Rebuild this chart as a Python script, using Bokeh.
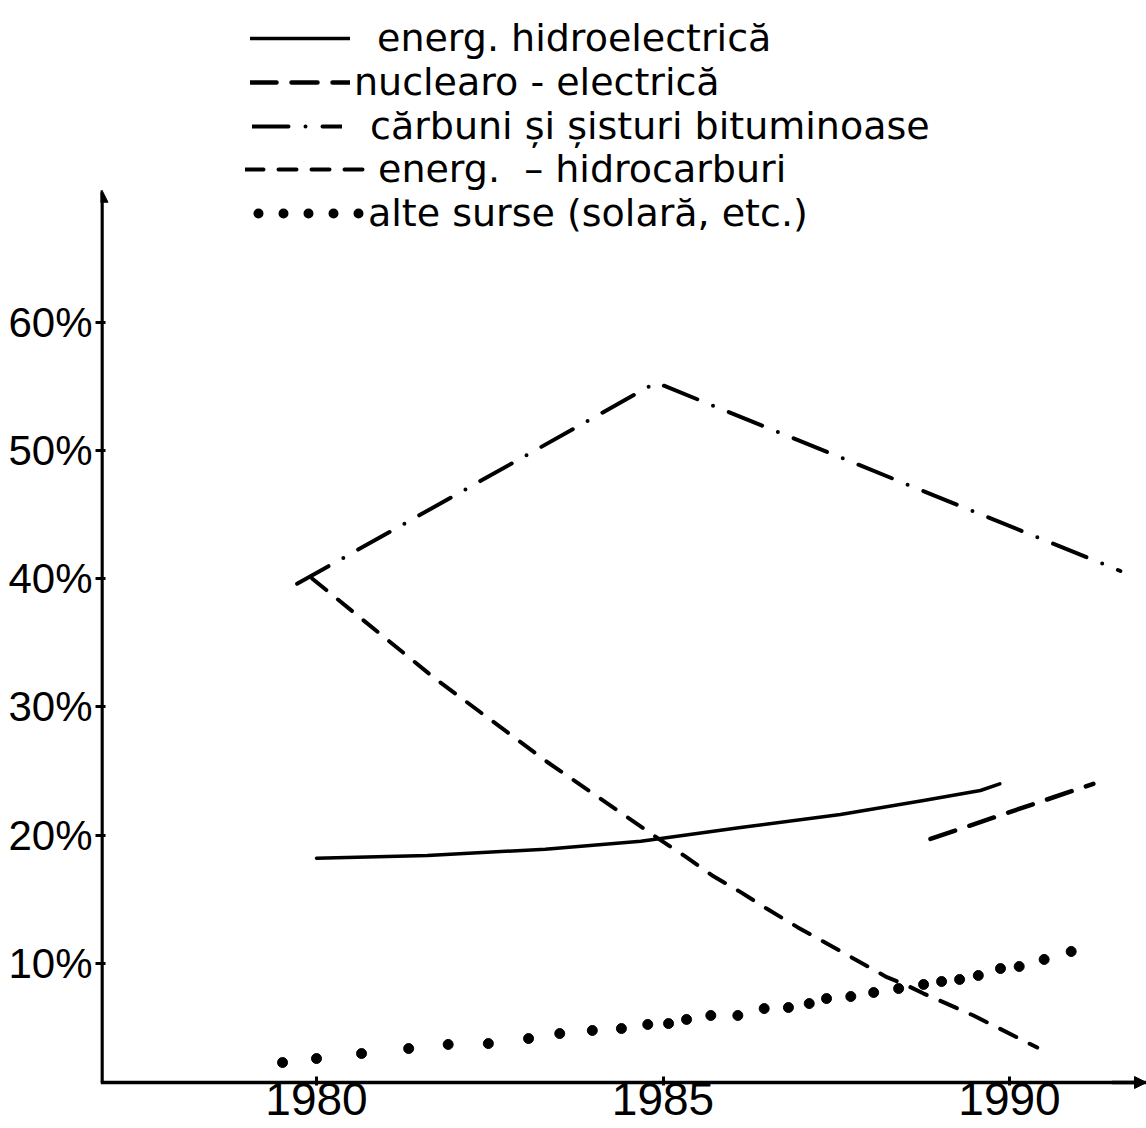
from bokeh.plotting import figure
from bokeh.models import Range1d, Legend, LegendItem, Arrow, NormalHead, FixedTicker
from bokeh.embed import file_html
from bokeh.resources import INLINE

# ---- data ----
years_hydro = [1980.0, 1981.6, 1983.3, 1984.68, 1986.12, 1987.56, 1988.76, 1989.58, 1989.86]
pct_hydro = [18.2, 18.4, 18.9, 19.52, 20.6, 21.6, 22.7, 23.48, 24.0]

years_nuclear = [1988.86, 1991.21]
pct_nuclear = [19.7, 24.0]

years_coal = [1979.72, 1984.9, 1991.6]
pct_coal = [39.6, 55.3, 40.6]

years_hc = [1979.94, 1981.69, 1983.33, 1984.96, 1985.30, 1985.71, 1986.12, 1986.50,
            1986.94, 1987.37, 1987.80, 1988.23, 1988.52, 1988.76, 1989.48, 1990.40]
pct_hc = [40.0, 32.3, 25.7, 19.63, 18.41, 16.85, 15.55, 14.25,
          12.82, 11.52, 10.22, 8.92, 8.27, 7.64, 5.93, 3.43]

years_other = [1979.51, 1980.00, 1980.65, 1981.33, 1981.90, 1982.48, 1983.06, 1983.51,
               1983.98, 1984.40, 1984.78, 1985.08, 1985.34, 1985.69, 1986.08, 1986.46,
               1986.81, 1987.11, 1987.36, 1987.71, 1988.04, 1988.40, 1988.76, 1989.02,
               1989.28, 1989.55, 1989.87, 1990.14, 1990.50, 1990.89]
pct_other = [2.26, 2.57, 2.96, 3.35, 3.67, 3.74, 4.13, 4.52,
             4.76, 4.91, 5.23, 5.30, 5.62, 5.93, 5.93, 6.47,
             6.55, 6.86, 7.25, 7.41, 7.72, 8.03, 8.35, 8.58,
             8.74, 9.05, 9.59, 9.75, 10.30, 10.92]

labels = ["energ. hidroelectrică", "nuclearo - electrică",
          "cărbuni și șisturi bituminoase", "energ.  – hidrocarburi",
          "alte surse (solară, etc.)"]

x_ticks = [1980, 1985, 1990]
y_ticks = [10, 20, 30, 40, 50, 60]
y_tick_labels = {t: f"{t}%" for t in y_ticks}

# ---- figure ----
W, H = 1146, 1128
X0, X1 = 1976.883, 1991.977
Y0, Y1 = -2.886, 85.1
AXIS_Y = 0.7
Y_TOP = 70.3

p = figure(width=W, height=H, x_range=Range1d(X0, X1), y_range=Range1d(Y0, Y1),
           output_backend="svg", toolbar_location=None,
           min_border_left=100, min_border_right=0, min_border_top=0, min_border_bottom=0)
p.outline_line_color = None
p.grid.visible = False
p.background_fill_color = "white"

# y axis (ticks + labels from the library, line drawn as arrow)
ya = p.yaxis[0]
ya.ticker = FixedTicker(ticks=y_ticks)
ya.major_label_overrides = y_tick_labels
ya.axis_line_color = None
ya.major_tick_in = 5
ya.major_tick_out = 5
ya.major_tick_line_width = 3
ya.minor_tick_line_color = None
ya.major_label_standoff = 3
ya.major_label_text_font = "Liberation Sans"
ya.major_label_text_font_size = "42px"
ya.major_label_text_color = "black"

# x axis at fixed location
xa = p.xaxis[0]
xa.fixed_location = AXIS_Y
xa.ticker = FixedTicker(ticks=x_ticks)
xa.axis_line_width = 3.5
xa.axis_line_color = "black"
xa.major_tick_in = 6
xa.major_tick_out = 3
xa.major_tick_line_width = 3
xa.minor_tick_line_color = None
xa.major_label_standoff = -3
xa.major_label_text_font = "Liberation Sans"
xa.major_label_text_font_size = "46px"
xa.major_label_text_color = "black"

ax_x = X0 + 1.5 / 69.3
p.add_layout(Arrow(x_start=ax_x, y_start=AXIS_Y, x_end=ax_x, y_end=Y_TOP,
                   line_width=3.5, line_color="black",
                   end=NormalHead(size=12, line_color="black", fill_color="black")))
p.add_layout(Arrow(x_start=X1 - 0.5, y_start=AXIS_Y, x_end=X1, y_end=AXIS_Y,
                   line_width=3.5, line_color="black",
                   end=NormalHead(size=12, line_color="black", fill_color="black")))

common = dict(line_color="black", line_cap="round", line_join="round")
r_hydro = p.line(years_hydro, pct_hydro, line_width=3.5, **common)
r_nuc = p.line(years_nuclear, pct_nuclear, line_width=4.5, line_dash="26 15", **common)
r_coal = p.line(years_coal, pct_coal, line_width=4, line_dash="36 17 0 17", **common)
r_hc = p.line(years_hc, pct_hc, line_width=4, line_dash="18 15", **common)
r_other = p.scatter(years_other, pct_other, size=10, marker="circle",
                    fill_color="black", line_color="black")
# legend key only (no data point is drawn)
r_other_key = p.line(x=[float("nan")], y=[float("nan")], line_width=10,
                     line_dash="0 25", line_dash_offset=17, **common)

# legend: one row per entry so the row pitch matches the original
renderers = [r_hydro, r_nuc, r_coal, r_hc, r_other_key]
glyph_left = [150, 150, 152, 145, 150]      # px from the frame's left edge
glyph_widths = [100, 100, 90, 125, 115]
standoffs = [27, 4, 28, 8, 3]
ROW0, PITCH, ITEM_H = 38, 43.75, 44
for i, (lab, rend) in enumerate(zip(labels, renderers)):
    y_bottom = H - (ROW0 + PITCH * i + ITEM_H / 2)
    lg = Legend(items=[LegendItem(label=lab, renderers=[rend])],
                location=(glyph_left[i], int(round(y_bottom))),
                glyph_width=glyph_widths[i], glyph_height=38, label_height=38,
                padding=0, margin=0, label_standoff=standoffs[i],
                label_text_font="DejaVu Sans", label_text_font_size="38px",
                label_text_color="black", border_line_color=None, background_fill_alpha=0)
    p.add_layout(lg)

open("out.html", "w").write(file_html(p, INLINE))
